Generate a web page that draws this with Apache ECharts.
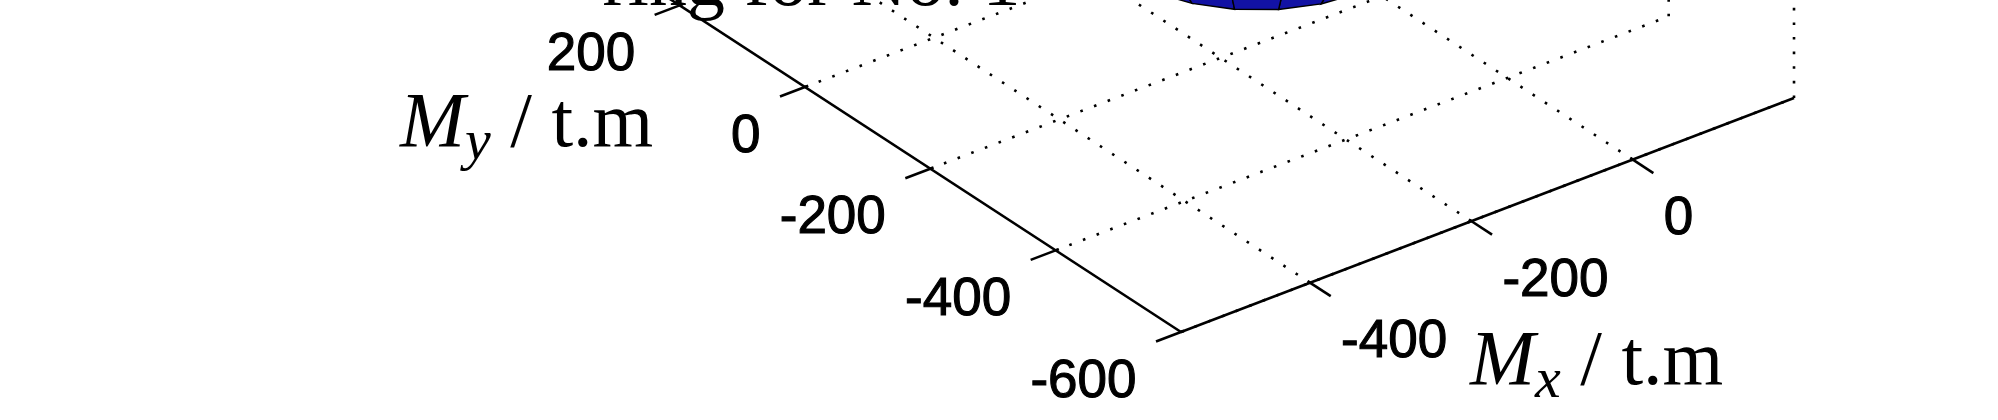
<!DOCTYPE html>
<html>
<head>
<meta charset="utf-8">
<script src="https://cdn.jsdelivr.net/npm/echarts@6/dist/echarts.min.js"></script>
<style>
html,body{margin:0;padding:0;background:#ffffff;}
#chart{width:1998px;height:420px;}
</style>
</head>
<body>
<div id="chart"></div>
<script>
// ---------------- data ----------------
const mxTicks = [-400, -200, 0];
const mxTickLabels = ['-400', '-200', '0'];
const myTicks = [-600, -400, -200, 0, 200];
const myTickLabels = ['-600', '-400', '-200', '0', '200'];
const mxLimits = [-560, 200];
const myLimits = [-600, 400];
const nLimits = [0, 3000];
// lower part of the failure surface: rings of constant axial force
const ringN = [716, 870, 1070];
const ringRadius = [165, 200, 225];
const ringCentre = [-229, -293];   // [Mx, My]
const meshSegments = 24;
const titleText = 'ring for No. 1';
const xName = ['M', 'x', ' / t.m'];
const yName = ['M', 'y', ' / t.m'];

// ---------------- view (3-D projection, style) ----------------
const VIEW = {
  origin: [1181, 332],
  ex: [0.8066, -0.3079],
  ey: [-0.6267, -0.4083],
  ez: [0, -0.25]
};
function project(mx, my, n) {
  const a = mx - mxLimits[0], b = my - myLimits[0], c = n - nLimits[0];
  return [
    VIEW.origin[0] + a * VIEW.ex[0] + b * VIEW.ey[0] + c * VIEW.ez[0],
    VIEW.origin[1] + a * VIEW.ex[1] + b * VIEW.ey[1] + c * VIEW.ez[1]
  ];
}

const chart = echarts.init(document.getElementById('chart'), null, {renderer: 'canvas'});

const DOT = {stroke: '#000', lineWidth: 2.6, lineDash: [2.6, 12]};
const SOLID = {stroke: '#000', lineWidth: 2.6};
const z0 = nLimits[0];
const TEXT_DY = 4.5;

function seg(api, p, q, style) {
  const a = api.coord(p), b = api.coord(q);
  return {type: 'line', shape: {x1: a[0], y1: a[1], x2: b[0], y2: b[1]}, style: style, silent: true};
}

function renderGrid(params, api) {
  const ch = [];
  mxTicks.forEach(function (mx) {
    ch.push(seg(api, project(mx, myLimits[0], z0), project(mx, myLimits[1], z0), DOT));
  });
  myTicks.forEach(function (my) {
    ch.push(seg(api, project(mxLimits[0], my, z0), project(mxLimits[1], my, z0), DOT));
    // vertical grid lines on the back wall Mx = max
    ch.push(seg(api, project(mxLimits[1], my, z0), project(mxLimits[1], my, nLimits[1]), DOT));
  });
  return {type: 'group', children: ch};
}

function renderAxes(params, api) {
  const ch = [];
  ch.push(seg(api, project(mxLimits[0], myLimits[0], z0), project(mxLimits[1], myLimits[0], z0), SOLID));
  ch.push(seg(api, project(mxLimits[0], myLimits[0], z0), project(mxLimits[0], myLimits[1], z0), SOLID));
  const tickMx = 31, tickMy = 33;
  myTicks.forEach(function (my) {
    ch.push(seg(api, project(mxLimits[0] + 4, my, z0), project(mxLimits[0] - tickMx, my, z0), SOLID));
  });
  mxTicks.forEach(function (mx) {
    ch.push(seg(api, project(mx, myLimits[0] + 4, z0), project(mx, myLimits[0] - tickMy, z0), SOLID));
  });
  return {type: 'group', children: ch};
}

function renderSurface(params, api) {
  const rings = ringN.map(function (n, i) {
    const pts = [];
    for (let j = 0; j < meshSegments; j++) {
      const t = 2 * Math.PI * j / meshSegments;
      pts.push([ringCentre[0] + ringRadius[i] * Math.cos(t), ringCentre[1] + ringRadius[i] * Math.sin(t), n]);
    }
    return pts;
  });
  const quads = [];
  for (let i = 0; i < rings.length - 1; i++) {
    for (let j = 0; j < meshSegments; j++) {
      const k = (j + 1) % meshSegments;
      const P = [rings[i][j], rings[i][k], rings[i + 1][k], rings[i + 1][j]];
      const cx = (P[0][0] + P[1][0]) / 2, cy = (P[0][1] + P[1][1]) / 2;
      const depth = project(cx, cy, z0)[1];
      quads.push({depth: depth, pts: P.map(function (p) { return api.coord(project(p[0], p[1], p[2])); })});
    }
  }
  quads.sort(function (a, b) { return a.depth - b.depth; });
  return {
    type: 'group',
    children: quads.map(function (q) {
      return {type: 'polygon', shape: {points: q.pts}, style: {fill: '#1212a4', stroke: '#000', lineWidth: 1.4}, silent: true};
    })
  };
}

const TICK_FONT = '53px "Liberation Sans", Arial, sans-serif';
function tickText(text, x, y, align) {
  return {type: 'text', x: x, y: y, silent: true,
    style: {text: text, font: TICK_FONT, fill: '#000', stroke: '#000', lineWidth: 1.1, align: align, verticalAlign: 'middle'}};
}
function renderLabels(params, api) {
  const ch = [];
  myTicks.forEach(function (my, i) {
    const p = api.coord(project(mxLimits[0], my, z0));
    ch.push(tickText(myTickLabels[i], p[0] - 44.5, p[1] + 45.5 + TEXT_DY, 'right'));
  });
  mxTicks.forEach(function (mx, i) {
    const p = api.coord(project(mx, myLimits[0], z0));
    ch.push(tickText(mxTickLabels[i], p[0] + 31, p[1] + 55.5 + TEXT_DY, 'left'));
  });
  return {type: 'group', children: ch};
}

// axis names (TeX-like M with subscript)
const SERIF = '"Liberation Serif", "Times New Roman", serif';
const mctx = document.createElement('canvas').getContext('2d');
function measure(font, s) { mctx.font = font; return mctx.measureText(s).width; }
function axisName(parts, left, baseline) {
  const fM = 'italic 78px ' + SERIF, fS = 'italic 58px ' + SERIF, fR = '78px ' + SERIF;
  const wM = measure(fM, parts[0]), wS = measure(fS, parts[1]);
  const mid = 0.3375;
  return [
    {type: 'text', x: left, y: baseline - mid * 78 + TEXT_DY, style: {text: parts[0], font: fM, fill: '#000', align: 'left', verticalAlign: 'middle'}},
    {type: 'text', x: left + wM, y: baseline + 12 - mid * 58 + TEXT_DY, style: {text: parts[1], font: fS, fill: '#000', align: 'left', verticalAlign: 'middle'}},
    {type: 'text', x: left + wM + wS, y: baseline - mid * 78 + TEXT_DY, style: {text: parts[2], font: fR, fill: '#000', align: 'left', verticalAlign: 'middle'}}
  ];
}

const graphics = []
  .concat([{type: 'text', x: 602.5, y: 6.5 - 0.3375 * 76 + TEXT_DY, z: 100,
    style: {text: titleText, font: '76px ' + SERIF, fill: '#000', align: 'left', verticalAlign: 'middle'}}])
  .concat(axisName(yName, 400, 147))
  .concat(axisName(xName, 1470, 385));

chart.setOption({
  animation: false,
  backgroundColor: '#ffffff',
  grid: {left: 0, right: 0, top: 0, bottom: 0, containLabel: false},
  xAxis: {type: 'value', min: 0, max: 1998, show: false},
  yAxis: {type: 'value', min: 0, max: 420, inverse: true, show: false},
  graphic: graphics,
  series: [
    {type: 'custom', name: 'grid', data: [[0, 0]], clip: false, silent: true, renderItem: renderGrid, z: 1},
    {type: 'custom', name: 'axes', data: [[0, 0]], clip: false, silent: true, renderItem: renderAxes, z: 2},
    {type: 'custom', name: 'surface', data: [[0, 0]], clip: false, silent: true, renderItem: renderSurface, z: 3},
    {type: 'custom', name: 'labels', data: [[0, 0]], clip: false, silent: true, renderItem: renderLabels, z: 4}
  ]
});
</script>
</body>
</html>
